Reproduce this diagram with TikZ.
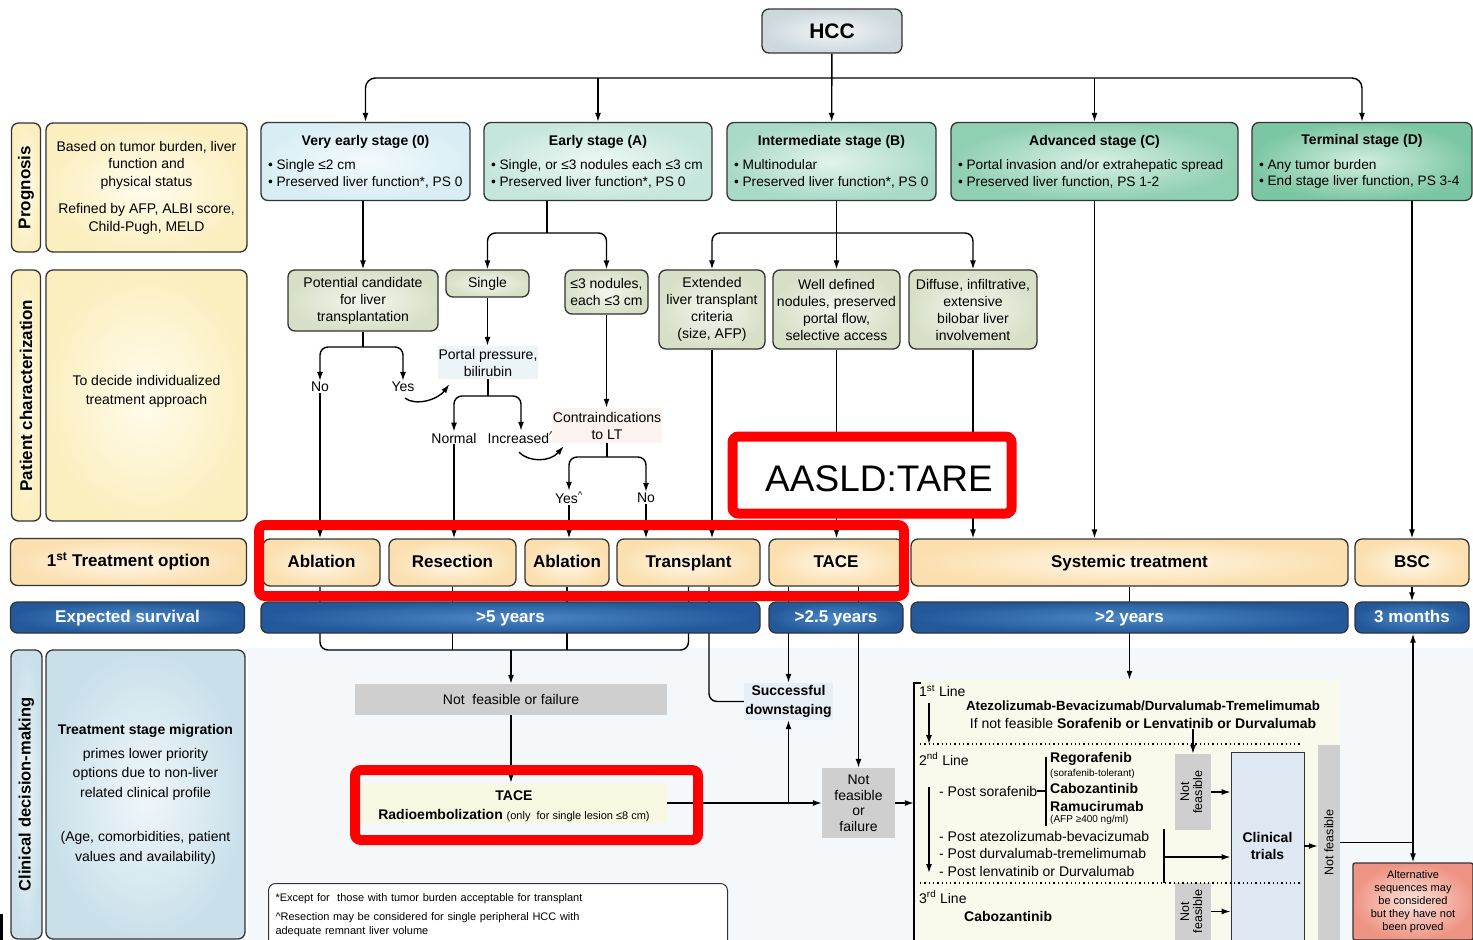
\documentclass[tikz,border=0pt]{standalone}
\usepackage{fontspec}
\setmainfont{Liberation Sans}
\usetikzlibrary{arrows.meta,backgrounds,calc}

\definecolor{bordc}{HTML}{333333}
\definecolor{creamI}{HTML}{FFFCEC}
\definecolor{creamO}{HTML}{FBEFC0}
\definecolor{veI}{HTML}{F4FAFC}
\definecolor{veO}{HTML}{D8EEF4}
\definecolor{eaI}{HTML}{EEF8F5}
\definecolor{eaO}{HTML}{C5E6DC}
\definecolor{imI}{HTML}{E2F3EC}
\definecolor{imO}{HTML}{A9DAC8}
\definecolor{adI}{HTML}{D9F0E5}
\definecolor{adO}{HTML}{8FCFB2}
\definecolor{tmI}{HTML}{D2EEDF}
\definecolor{tmO}{HTML}{7CC7A3}
\definecolor{grnI}{HTML}{F3F6EE}
\definecolor{grnO}{HTML}{D7E0C7}
\definecolor{optI}{HTML}{FFF7E8}
\definecolor{optO}{HTML}{FBDFAE}
\definecolor{survI}{HTML}{4C88C6}
\definecolor{survO}{HTML}{23599A}
\definecolor{clinI}{HTML}{F0F7FA}
\definecolor{clinO}{HTML}{C9E0EA}
\definecolor{hccI}{HTML}{F3F6F7}
\definecolor{hccO}{HTML}{CCD8DC}
\definecolor{altI}{HTML}{FCE3DC}
\definecolor{altO}{HTML}{EE9484}
\definecolor{nfgray}{HTML}{CFCFCF}
\definecolor{bggray}{HTML}{F5F8FA}
\definecolor{lnfill}{HTML}{FAFAEC}
\definecolor{ctfill}{HTML}{DDE8F2}
\definecolor{portfill}{HTML}{EDF4F8}
\definecolor{contfill}{HTML}{FBF3F0}
\definecolor{downfill}{HTML}{E6EEF6}
\definecolor{tacefill}{HTML}{F8F8E2}
\definecolor{aasred}{HTML}{FF0000}

\newcommand\fsz[2]{\fontsize{#1}{#2}\selectfont}
\newcommand\stagetxt[3]{\parbox{#1}{\centering\bfseries #2\par\vspace{8pt}\raggedright\mdseries\fsz{13.7}{16.5}#3}}

\tikzset{
  conn/.style={draw=black, line width=1.4pt},
  arr/.style={conn, -{Latex[length=9pt,width=6pt]}},
  rbox/.style={draw=bordc, line width=1.3pt, rounded corners=7pt, inner sep=1pt,
    align=center, font=\fsz{14}{17}},
  stagebox/.style={rbox, minimum height=78pt, font=\fsz{14}{16.5}},
  labbox/.style={rbox, inner color=creamI, outer color=creamO},
  critbox/.style={rbox, inner color=grnI, outer color=grnO},
  optbox/.style={rbox, inner color=optI, outer color=optO, minimum height=47pt,
    text height=12.5pt, text depth=3.5pt, font=\bfseries\fsz{17}{20}},
  survbar/.style={rbox, inner color=survI, outer color=survO, minimum height=31pt,
    text height=12.5pt, text depth=3.5pt, text=white, font=\bfseries\fsz{17}{20}},
  flatbox/.style={inner sep=1pt, align=center, font=\fsz{14}{17}},
  word/.style={inner sep=1pt, font=\fsz{14}{17}},
  txt/.style={inner sep=0pt, anchor=west, font=\fsz{14}{17}},
  nfbox/.style={flatbox, fill=nfgray},
  redframe/.style={draw=aasred, line width=10pt, rounded corners=6pt},
  dotsep/.style={draw=black, line width=1.3pt, dash pattern=on 1.3pt off 3pt}
}

\begin{document}
\begin{tikzpicture}[x=1pt,y=-1pt]
\useasboundingbox (0,0) rectangle (1473,940);
\clip (0,0) rectangle (1473,940);

\node[rbox, inner color=hccI, outer color=hccO, minimum width=140pt, minimum height=44pt,
  font=\bfseries\fsz{21}{24}] (hcc) at (832,31) {HCC};

\node[stagebox, inner color=veI, outer color=veO, minimum width=209pt] (vearly) at (365.5,161.5)
  {\stagetxt{195pt}{Very early stage (0)}{\mbox{• Single ≤2 cm}\\\mbox{• Preserved liver function*, PS 0}}};
\node[stagebox, inner color=eaI, outer color=eaO, minimum width=228pt] (early) at (598,161.5)
  {\stagetxt{214pt}{Early stage (A)}{\mbox{• Single, or ≤3 nodules each ≤3 cm}\\\mbox{• Preserved liver function*, PS 0}}};
\node[stagebox, inner color=imI, outer color=imO, minimum width=209pt] (inter) at (831.5,161.5)
  {\stagetxt{195pt}{Intermediate stage (B)}{\mbox{• Multinodular}\\\mbox{• Preserved liver function*, PS 0}}};
\node[stagebox, inner color=adI, outer color=adO, minimum width=287pt] (adv) at (1094.5,161.5)
  {\stagetxt{273pt}{Advanced stage (C)}{\mbox{• Portal invasion and/or extrahepatic spread}\\\mbox{• Preserved liver function, PS 1-2}}};
\node[stagebox, inner color=tmI, outer color=tmO, minimum width=220pt] (term) at (1362,161.5)
  {\stagetxt{206pt}{Terminal stage (D)}{\mbox{• Any tumor burden}\\\mbox{• End stage liver function, PS 3-4}}};

\node[labbox, minimum width=29pt, minimum height=129pt] (proglab) at (26,187.5)
  {\rotatebox{90}{\bfseries\fsz{17}{20}Prognosis}};
\node[labbox, minimum width=201pt, minimum height=129pt, font=\fsz{14}{17.5}] (progtxt) at (146.5,187.5)
  {Based on tumor burden, liver\\function and\\physical status\\[10pt]Refined by AFP, ALBI score,\\Child-Pugh, MELD};
\node[labbox, minimum width=29pt, minimum height=251pt] (patlab) at (26,395.5)
  {\rotatebox{90}{\bfseries\fsz{17}{20}Patient characterization}};
\node[labbox, minimum width=201pt, minimum height=251pt, font=\fsz{14}{19}] (pattxt) at (146.5,395.5)
  {To decide individualized\\treatment approach\\[-8pt]\mbox{}};
\node[optbox, minimum width=236pt] (optlab) at (128.5,562) {1\textsuperscript{st} Treatment option};
\node[survbar, minimum width=234pt] (survlab) at (127.5,617.5) {Expected survival};
\node[rbox, inner color=clinI, outer color=clinO, minimum width=31pt, minimum height=289pt] (clinlab) at (26.5,794.5)
  {\rotatebox{90}{\bfseries\fsz{16.5}{20}Clinical decision-making}};
\node[rbox, inner color=clinI, outer color=clinO, minimum width=199pt, minimum height=289pt,
  font=\fsz{14}{19.5}] (clintxt) at (145.5,794.5)
  {\textbf{Treatment stage migration}\\[4pt]primes lower priority\\options due to non-liver\\related clinical profile\\[25pt](Age, comorbidities, patient\\values and availability)};

\node[critbox, minimum width=150pt, minimum height=61pt] (cand) at (363,300.5) {Potential candidate\\for liver\\transplantation};
\node[critbox, minimum width=83pt, minimum height=27pt] (single) at (487.5,283.5) {Single};
\node[critbox, minimum width=83pt, minimum height=44pt] (nod3) at (606.5,292) {≤3 nodules,\\each ≤3 cm};
\node[critbox, minimum width=106pt, minimum height=79pt] (ext) at (712,309.5) {Extended\\liver transplant\\criteria\\(size, AFP)};
\node[critbox, minimum width=127pt, minimum height=79pt] (well) at (836.5,309.5) {Well defined\\nodules, preserved\\portal flow,\\selective access};
\node[critbox, minimum width=128pt, minimum height=79pt] (diff) at (973,309.5) {Diffuse, infiltrative,\\extensive\\bilobar liver\\involvement};

\node[word] (no1) at (320,387) {No};
\node[word] (yes1) at (403,387) {Yes};
\node[flatbox, fill=portfill, minimum width=100pt, minimum height=33pt] (portal) at (488,362.5) {Portal pressure,\\bilirubin};
\node[word] (normal) at (454,438) {Normal};
\node[word] (incr) at (521,438) {Increased\textsuperscript{\textasciicircum}};
\node[flatbox, fill=contfill, minimum width=110pt, minimum height=35pt] (contra) at (607,425.5) {Contraindications\\to LT};
\node[word] (yes2) at (569,498) {Yes\textsuperscript{\textasciicircum}};
\node[word] (no2) at (646,498) {No};

\node[optbox, minimum width=117pt] (abl1) at (321.5,562.5) {Ablation};
\node[optbox, minimum width=127pt] (resec) at (452.5,562.5) {Resection};
\node[optbox, minimum width=84pt] (abl2) at (567,562.5) {Ablation};
\node[optbox, minimum width=143pt] (trans) at (688.5,562.5) {Transplant};
\node[optbox, minimum width=134pt] (tace) at (836,562.5) {TACE};
\node[optbox, minimum width=437pt] (syst) at (1129.5,562.5) {Systemic treatment};
\node[optbox, minimum width=114pt] (bsc) at (1412,562.5) {BSC};

\node[survbar, minimum width=499pt] (s5) at (510.5,617.5) {>5 years};
\node[survbar, minimum width=134pt] (s25) at (836,617.5) {>2.5 years};
\node[survbar, minimum width=437pt] (s2) at (1129.5,617.5) {>2 years};
\node[survbar, minimum width=114pt] (s3m) at (1412,617.5) {3 months};

\node[nfbox, minimum width=312pt, minimum height=31pt] (nf1) at (511,699.5) {Not\ \ feasible or failure};
\node[flatbox, fill=tacefill, minimum width=306pt, minimum height=40pt, font=\fsz{14}{19}] (tacer) at (514,803)
  {\raisebox{-3pt}[\height][\depth]{\begin{tabular}{@{}c@{}}\textbf{TACE}\\\textbf{Radioembolization} {\fsz{11}{13}(only\ \ for single lesion ≤8 cm)}\end{tabular}}};
\node[flatbox, fill=downfill, minimum width=87pt, minimum height=37pt, font=\bfseries\fsz{14}{19}] (down) at (788.5,701.5) {Successful\\downstaging};
\node[nfbox, minimum width=73pt, minimum height=70pt, font=\fsz{14}{15.5}] (nf2) at (858.5,803) {Not\\feasible\\or\\failure};

\node[fill=lnfill, minimum width=426pt, minimum height=260pt, inner sep=0pt] (lines) at (1127,810) {};
\draw[conn, line width=1.8pt] ($(lines.north west)+(7,3)$) -- ($(lines.north west)+(0,3)$) -- (lines.south west);
\node[txt] (l1) at (919,691) {1\textsuperscript{st} Line};
\node[word, font=\bfseries\fsz{13.3}{16}] (atez) at (1143,706) {Atezolizumab-Bevacizumab/Durvalumab-Tremelimumab};
\node[word] (ifnot) at (1143,723) {If not feasible \textbf{Sorafenib or Lenvatinib or Durvalumab}};
\node[txt] (l2) at (919,759) {2\textsuperscript{nd} Line};
\node[txt] (postsor) at (939,791) {- Post sorafenib};
\node[txt, font=\bfseries\fsz{14}{17}] (regor) at (1050,759) {Regorafenib};
\node[txt, font=\fsz{10}{12}] (soratol) at (1050,774) {(sorafenib-tolerant)};
\node[txt, font=\bfseries\fsz{14}{17}] (cabo2) at (1050,788) {Cabozantinib};
\node[txt, font=\bfseries\fsz{14}{17}] (ramu) at (1050,806) {Ramucirumab};
\node[txt, font=\fsz{10}{12}] (afp) at (1050,820) {(AFP ≥400 ng/ml)};
\node[txt] (posta) at (939,836) {- Post atezolizumab-bevacizumab};
\node[txt] (postd) at (939,853) {- Post durvalumab-tremelimumab};
\node[txt] (postl) at (939,871) {- Post lenvatinib or Durvalumab};
\node[txt] (l3) at (919,897) {3\textsuperscript{rd} Line};
\node[txt, font=\bfseries\fsz{14}{17}] (cabo3) at (964,916) {Cabozantinib};
\node[nfbox, minimum width=36pt, minimum height=76pt, font=\fsz{12.5}{13}] (nf3) at (1193,792)
  {\rotatebox{90}{\begin{tabular}{@{}c@{}}Not\\feasible\end{tabular}}};
\node[nfbox, minimum width=36pt, minimum height=57pt, font=\fsz{12.5}{13}] (nf4) at (1193,911.5)
  {\rotatebox{90}{\begin{tabular}{@{}c@{}}Not\\feasible\end{tabular}}};
\node[draw=bordc, line width=0.8pt, fill=ctfill, minimum width=73pt, minimum height=188pt,
  align=center, font=\bfseries\fsz{14}{17}] (ct) at (1267.5,846) {Clinical\\trials};
\node[nfbox, minimum width=22pt, minimum height=195pt, font=\fsz{12.5}{14}] (nf5) at (1329,842.5)
  {\rotatebox{90}{Not feasible}};
\node[rbox, inner color=altI, outer color=altO, rounded corners=2pt, minimum width=120pt, minimum height=77pt,
  font=\fsz{11}{13}] (alt) at (1413,901.5) {Alternative\\sequences may\\be considered\\but they have not\\been proved};
\node[rbox, fill=white, line width=1pt, anchor=north west, minimum width=459pt, minimum height=64pt,
  align=left, text width=445pt, inner sep=6pt, font=\fsz{11}{14}] (foot) at (268,883)
  {*Except for\ \ those with tumor burden acceptable for transplant\\[5pt]\textasciicircum Resection may be considered for single peripheral HCC with\\adequate remnant liver volume};

% tree down to the options
\coordinate (hccbus) at (832,78);
\draw[arr, rounded corners=10pt] (hccbus) -| (vearly);
\draw[arr, rounded corners=10pt] (hccbus) -| (term);
\draw[arr] (hccbus -| early) -- (early);
\draw[arr] (hcc) -- (inter);
\draw[arr] (hccbus -| adv) -- (adv);

\draw[arr] (vearly.south -| cand) -- (cand);
\coordinate (ebr) at (547,233);
\draw[conn] (early.south -| ebr) -- (ebr);
\draw[arr, rounded corners=8pt] (ebr) -| (single);
\draw[arr, rounded corners=8pt] (ebr) -| (nod3);
\coordinate (ibr) at (836.5,233);
\draw[conn] (inter.south -| ibr) -- (ibr);
\draw[arr, rounded corners=8pt] (ibr) -| (ext);
\draw[arr] (ibr) -- (well);
\draw[arr, rounded corners=8pt] (ibr) -| (diff);
\draw[arr] (adv) -- (adv |- syst.north);
\draw[arr] (term.south -| bsc) -- (bsc);

\coordinate (cbr1) at (363,347);
\draw[conn] (cand) -- (cbr1);
\draw[arr, rounded corners=8pt] (cbr1) -| (no1);
\draw[arr, rounded corners=8pt] (cbr1) -| (yes1);
\draw[arr] (no1) -- (no1 |- abl1.north);
\draw[arr] ($(yes1.south)+(2,5)$) .. controls +(10,8) and +(-12,16) .. ($(portal.south west)+(12,5)$);

\draw[arr] (single) -- (single |- portal.north);
\coordinate (pbr) at (488,396);
\draw[conn] (portal) -- (pbr);
\draw[arr, rounded corners=8pt] (pbr) -| (normal);
\draw[arr, rounded corners=8pt] (pbr) -| (incr);
\draw[arr] (normal) -- (normal |- resec.north);
\draw[arr] ($(incr.south)+(-2,7)$) .. controls +(10,10) and +(-14,16) .. ($(contra.south west)+(12,3)$);

\draw[arr] (nod3) -- (nod3 |- contra.north);
\coordinate (cbr2) at (607,457);
\draw[conn] (contra) -- (cbr2);
\draw[arr, rounded corners=8pt] (cbr2) -| (yes2);
\draw[arr, rounded corners=8pt] (cbr2) -| (no2);
\draw[arr] (yes2) -- (yes2 |- abl2.north);
\draw[arr] (no2) -- (no2 |- trans.north);
\draw[arr] (ext) -- (ext |- trans.north);
\draw[arr] (well) -- (well |- tace.north);
\draw[arr] (diff) -- (diff |- syst.north);
\draw[arr] (bsc) -- (s3m);

\begin{scope}[on background layer]
\fill[bggray] (248,648) rectangle (1473,940);
\coordinate (tbr) at (511,650);
\draw[conn, rounded corners=8pt] (abl1.south -| no1) |- (tbr) -| (trans.south);
\draw[conn] (resec) -- (resec |- tbr);
\draw[conn] (abl2) -- (abl2 |- tbr);
\draw[conn, rounded corners=8pt] ($(trans.south)+(20.5,0)$) |- (down);
\draw[arr] (tace.south -| down) -- (down);
\draw[arr] (tace.south -| nf2) -- (nf2);
\draw[arr] (syst) -- (syst |- lines.north);
\end{scope}

% decision part
\draw[arr] (tbr) -- (nf1);
\draw[arr] (nf1) -- (nf1 |- tacer.north);
\draw[arr] (tacer) -- (nf2);
\draw[arr] (down |- tacer.east) -- (down);
\draw[arr] (nf2) -- (nf2 -| lines.west);

\coordinate (l1a) at (929,703);
\coordinate (l1b) at (929,744);
\draw[arr] (l1a) -- (l1b);
\coordinate (dotA) at (920,744);
\coordinate (dotB) at (1300,744);
\draw[dotsep] (dotA) -- (dotB);
\draw[arr] (ifnot.south -| nf3) -- (nf3);
\coordinate (l2a) at (929,787);
\coordinate (l2b) at (929,873);
\draw[arr] (l2a) -- (l2b);
\coordinate (barT) at (1046,757);
\coordinate (barB) at (1046,826);
\draw[conn, line width=1.6pt] (barT) -- (barB);
\draw[conn] (postsor.east) -- (postsor.east -| barT);
\coordinate (bar2T) at (1164,829);
\coordinate (bar2B) at (1164,883);
\coordinate (bar2M) at (1164,857);
\draw[conn, line width=2.4pt] (bar2T) -- (bar2B);
\coordinate (dotC) at (920,883);
\coordinate (dotD) at (1300,883);
\draw[dotsep] (dotC) -- (dotD);
\draw[arr] (bar2M) -- (bar2M -| ct.west);
\draw[arr] (nf3) -- (nf3 -| ct.west);
\draw[arr] (nf4) -- (nf4 -| ct.west);
\draw[arr] (ct) -- (ct -| nf5.west);
\coordinate (altj) at (1413,842.5);
\draw[conn] (nf5) -- (altj);
\draw[arr] (altj) -- (altj |- s3m.south);
\draw[arr] (altj) -- (alt);

% red marks
\draw[redframe] (259,525) rectangle (904,596);
\draw[redframe, fill=white] (732.5,436.5) rectangle (1011.5,513.5);
\node[font=\fsz{37}{40}] (aasld) at (879,479) {AASLD:TARE};
\draw[redframe] (355,770) rectangle (698,840);
\fill[black] (0,914) rectangle (3,940);
\end{tikzpicture}
\end{document}
